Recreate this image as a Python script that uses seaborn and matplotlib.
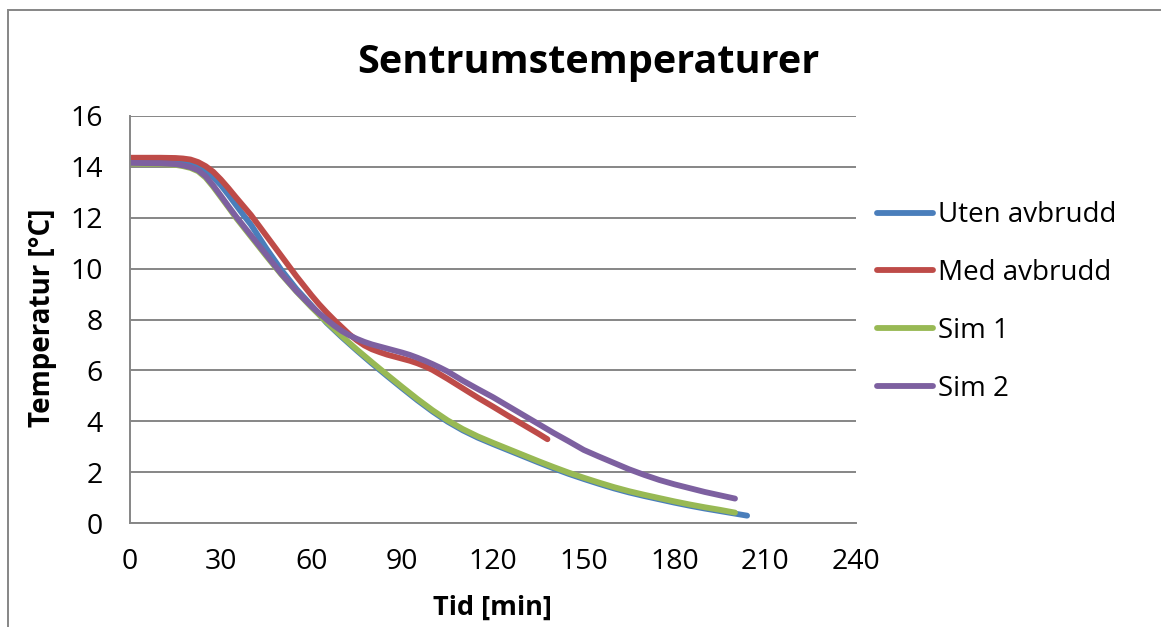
import matplotlib
matplotlib.use("Agg")
import matplotlib.pyplot as plt
import pandas as pd
import seaborn as sns
from matplotlib.lines import Line2D
from matplotlib.patches import Rectangle

# ---- data -------------------------------------------------------------
series_names = ["Uten avbrudd", "Med avbrudd", "Sim 1", "Sim 2"]
series_colors = ["#4A7EBB", "#BE4B48", "#98B954", "#7D60A0"]

t_uten = [0, 10, 15, 17.5, 20, 22.5, 25, 27.5, 30, 32.5, 35, 37.5, 40, 45, 50,
          55, 60, 65, 70, 75, 80, 85, 90, 95, 100, 105, 110, 115, 120, 125,
          130, 135, 140, 145, 150, 155, 160, 165, 170, 175, 180, 185, 190,
          195, 200, 204]
temp_uten = [14.25, 14.24, 14.22, 14.18, 14.12, 14.02, 13.84, 13.59, 13.28, 12.90,
             12.50, 12.10, 11.72, 10.80, 9.95, 9.20, 8.55, 7.87, 7.31, 6.78,
             6.27, 5.78, 5.30, 4.83, 4.39, 3.99, 3.65, 3.36, 3.11, 2.87,
             2.63, 2.39, 2.16, 1.94, 1.74, 1.55, 1.37, 1.21, 1.07, 0.94,
             0.81, 0.69, 0.58, 0.48, 0.38, 0.30]

t_med = [0, 10, 15, 17.5, 20, 22.5, 25, 27.5, 30, 32.5, 35, 37.5, 40, 45, 50,
         55, 60, 62.5, 65, 67.5, 70, 72.5, 75, 77.5, 80, 82.5, 85, 87.5, 90,
         92.5, 95, 97.5, 100, 105, 110, 115, 120, 125, 130, 135, 138]
temp_med = [14.35, 14.35, 14.34, 14.32, 14.28, 14.18, 14.02, 13.80, 13.50, 13.16,
            12.80, 12.45, 12.10, 11.30, 10.50, 9.70, 8.95, 8.60, 8.28, 7.98,
            7.70, 7.42, 7.18, 6.98, 6.83, 6.72, 6.62, 6.54, 6.46, 6.38,
            6.28, 6.16, 6.02, 5.67, 5.30, 4.93, 4.58, 4.22, 3.87, 3.52, 3.30]

t_sim1 = [0, 10, 15, 17.5, 20, 22.5, 25, 27.5, 30, 32.5, 35, 40, 45, 50, 55,
          60, 65, 70, 75, 80, 85, 90, 95, 100, 105, 110, 115, 120, 125, 130,
          135, 140, 145, 150, 155, 160, 165, 170, 175, 180, 185, 190, 195, 200]
temp_sim1 = [14.12, 14.10, 14.07, 14.02, 13.95, 13.82, 13.57, 13.21, 12.81, 12.41,
             12.00, 11.25, 10.50, 9.77, 9.10, 8.48, 7.90, 7.35, 6.82, 6.32,
             5.83, 5.35, 4.88, 4.44, 4.04, 3.70, 3.41, 3.16, 2.92, 2.68,
             2.44, 2.21, 1.99, 1.79, 1.60, 1.42, 1.26, 1.12, 0.99, 0.86,
             0.74, 0.63, 0.53, 0.42]

t_sim2 = [0, 10, 15, 17.5, 20, 22.5, 25, 27.5, 30, 32.5, 35, 40, 45, 50, 55,
          60, 62.5, 65, 67.5, 70, 72.5, 75, 77.5, 80, 82.5, 85, 87.5, 90, 92.5,
          95, 97.5, 100, 102.5, 105, 110, 115, 120, 125, 130, 135, 140, 145,
          150, 155, 160, 165, 170, 175, 180, 185, 190, 195, 200]
temp_sim2 = [14.15, 14.13, 14.10, 14.05, 13.98, 13.86, 13.62, 13.26, 12.86, 12.45,
             12.05, 11.30, 10.55, 9.80, 9.12, 8.52, 8.25, 8.00, 7.76, 7.55,
             7.38, 7.24, 7.12, 7.02, 6.94, 6.86, 6.78, 6.70, 6.61, 6.50,
             6.38, 6.25, 6.11, 5.96, 5.60, 5.27, 4.95, 4.60, 4.25, 3.90,
             3.55, 3.22, 2.88, 2.62, 2.37, 2.12, 1.90, 1.70, 1.53, 1.38,
             1.23, 1.10, 0.97]

x_ticks = [0, 30, 60, 90, 120, 150, 180, 210, 240]
y_ticks = [0, 2, 4, 6, 8, 10, 12, 14, 16]

frames = []
for name, t, v in zip(series_names,
                      [t_uten, t_med, t_sim1, t_sim2],
                      [temp_uten, temp_med, temp_sim1, temp_sim2]):
    frames.append(pd.DataFrame({"Tid": t, "Temperatur": v, "Serie": name}))
df = pd.concat(frames, ignore_index=True)

# ---- style ------------------------------------------------------------
sns.set_style("white")
plt.rcParams["font.family"] = ["Open Sans", "DejaVu Sans"]
plt.rcParams["text.color"] = "black"
grid_col = "#868686"
lw = 4.2

W, H = 1161, 627
fig = plt.figure(figsize=(W / 100, H / 100), dpi=100)
ax = fig.add_axes([130 / W, 1 - 523.3 / H, (856 - 130) / W, (523.3 - 115.7) / H])

sns.lineplot(data=df, x="Tid", y="Temperatur", hue="Serie",
             hue_order=series_names, palette=series_colors,
             sort=False, estimator=None, linewidth=lw,
             legend=False, ax=ax)
for ln in ax.get_lines():
    ln.set_solid_capstyle("round")
    ln.set_solid_joinstyle("round")

ax.set_xlim(0, 240)
ax.set_ylim(0, 16)
ax.set_xticks(x_ticks)
ax.set_yticks(y_ticks)
ax.set_xticklabels([str(v) for v in x_ticks])
ax.set_yticklabels([str(v) for v in y_ticks])

ax.yaxis.grid(True, color=grid_col, linewidth=1.4)
ax.xaxis.grid(False)
ax.set_axisbelow(True)
for side in ["top", "right"]:
    ax.spines[side].set_visible(False)
for side in ["left", "bottom"]:
    ax.spines[side].set_color(grid_col)
    ax.spines[side].set_linewidth(1.4)

ax.tick_params(axis="both", which="major", direction="out", length=6.5,
               width=1.4, color=grid_col, labelsize=20.5, labelcolor="black")
ax.tick_params(axis="y", pad=13)
ax.tick_params(axis="x", pad=11)

ax.set_xlabel("")
ax.set_ylabel("")
fig.text(492 / W, 1 - 608 / H, "Tid [min]", ha="center", va="center",
         fontsize=19.5, fontweight="bold", color="black")
fig.text(43 / W, 1 - 318 / H, "Temperatur [°C]", ha="center", va="center",
         rotation=90, fontsize=20, fontweight="bold", color="black")
fig.text(588 / W, 1 - 62 / H, "Sentrumstemperaturer", ha="center", va="center",
         fontsize=28.5, fontweight="bold", color="black")

handles = [Line2D([0], [0], color=c, linewidth=lw, solid_capstyle="round")
           for c in series_colors]
fig.legend(handles, series_names, loc="center left",
           bbox_to_anchor=(877 / W, 1 - 302 / H), frameon=False,
           fontsize=20, handlelength=2.0, handletextpad=0.2,
           labelspacing=1.07, borderpad=0, borderaxespad=0,
           labelcolor="black")

# chart-area border
fig.patches.append(Rectangle((8 / W, -0.1), 1.2, 1 - 10 / H + 0.1,
                             transform=fig.transFigure, fill=False,
                             edgecolor=grid_col, linewidth=1.4))

fig.savefig("out.png", dpi=100, facecolor="white")
